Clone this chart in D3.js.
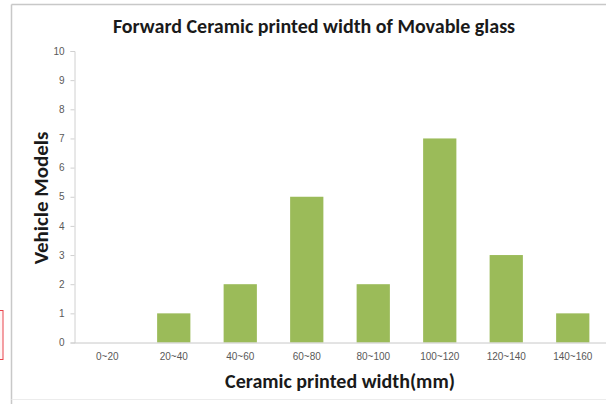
<!DOCTYPE html>
<html>
<head>
<meta charset="utf-8">
<script src="https://cdn.jsdelivr.net/npm/d3@7"></script>
<style>
  body { margin: 0; background: #fff; }
  svg { display: block; font-family: Carlito, Lato, "Open Sans", "DejaVu Sans", sans-serif; }
</style>
</head>
<body>
<div id="chart"></div>
<script>
// Data
const categories = ['0~20', '20~40', '40~60', '60~80', '80~100', '100~120', '120~140', '140~160'];
const vehicleModels = [0, 1, 2, 5, 2, 7, 3, 1];
const yTicks = [0, 1, 2, 3, 4, 5, 6, 7, 8, 9, 10];

const width = 606, height = 404;
const margin = { top: 51, right: 0, bottom: 61, left: 74 };

const svg = d3.select('#chart').append('svg')
  .attr('width', width)
  .attr('height', height);

// Chart frame (cropped on the right)
svg.append('line').attr('x1', 11.5).attr('x2', width).attr('y1', 4.5).attr('y2', 4.5)
  .attr('stroke', '#c8c8c8').attr('stroke-width', 1.5);
svg.append('line').attr('x1', 11.5).attr('x2', 11.5).attr('y1', 4.5).attr('y2', height)
  .attr('stroke', '#c8c8c8').attr('stroke-width', 1.5);
svg.append('line').attr('x1', 11.5).attr('x2', width).attr('y1', 399.5).attr('y2', 399.5)
  .attr('stroke', '#ececec').attr('stroke-width', 1);

// Stray red box at the left edge
svg.append('rect').attr('x', -10).attr('y', 310.5).attr('width', 13).attr('height', 49)
  .attr('fill', '#fff5f5').attr('stroke', '#e8424a').attr('stroke-width', 1);

const x = d3.scaleBand()
  .domain(categories)
  .range([margin.left, 606])
  .paddingInner(0.5)
  .paddingOuter(0.25);

const y = d3.scaleLinear()
  .domain([0, 10])
  .range([height - margin.bottom - 0.5, margin.top]);

// Bars
svg.append('g').selectAll('rect')
  .data(categories.map((c, i) => ({ c, v: vehicleModels[i] })))
  .join('rect')
  .attr('x', d => x(d.c))
  .attr('y', d => y(d.v))
  .attr('width', x.bandwidth())
  .attr('height', d => y(0) - y(d.v))
  .attr('fill', '#9bbb59');

// Y axis
const yAxis = svg.append('g')
  .attr('transform', `translate(${margin.left + 0.5},0)`)
  .call(d3.axisLeft(y).tickValues(yTicks).tickSize(4).tickPadding(6).tickFormat(d3.format('d')));
yAxis.select('.domain').attr('stroke', '#d0d0d0');
yAxis.selectAll('.tick line').attr('stroke', '#d0d0d0');
yAxis.selectAll('text').attr('fill', '#595959').style('font-size', '10px');

// X axis
const xAxis = svg.append('g')
  .attr('transform', `translate(0,${y(0)})`)
  .call(d3.axisBottom(x).tickSize(0).tickPadding(10));
xAxis.select('.domain').attr('stroke', '#c8c8c8');
xAxis.selectAll('text').attr('fill', '#595959').style('font-size', '10px');

// Title
svg.append('text')
  .attr('x', 314).attr('y', 33)
  .attr('text-anchor', 'middle')
  .attr('font-weight', 'bold')
  .attr('font-size', 20)
  .attr('fill', '#1a1a1a')
  .text('Forward Ceramic printed width of Movable glass');

// Axis titles
svg.append('text')
  .attr('x', 340).attr('y', 388)
  .attr('text-anchor', 'middle')
  .attr('font-weight', 'bold')
  .attr('font-size', 20)
  .attr('fill', '#1a1a1a')
  .text('Ceramic printed width(mm)');

svg.append('text')
  .attr('transform', 'translate(48,198) rotate(-90)')
  .attr('text-anchor', 'middle')
  .attr('font-weight', 'bold')
  .attr('font-size', 21)
  .attr('fill', '#1a1a1a')
  .text('Vehicle Models');
</script>
</body>
</html>
